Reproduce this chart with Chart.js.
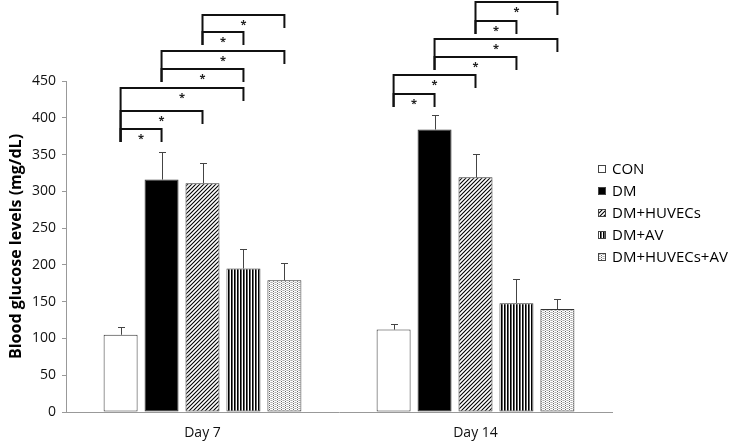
<!DOCTYPE html>
<html>
<head>
<meta charset="utf-8">
<script src="https://cdn.jsdelivr.net/npm/chart.js@4.4.1/dist/chart.umd.min.js"></script>
<style>
  html, body { margin: 0; padding: 0; background: #fff; }
  #wrap { width: 733px; height: 442px; position: relative; }
</style>
</head>
<body>
<div id="wrap"><canvas id="c" width="733" height="442"></canvas></div>
<script>
// ---- Data ----
const categories = ['Day 7', 'Day 14'];
const seriesLabels = ['CON', 'DM', 'DM+HUVECs', 'DM+AV', 'DM+HUVECs+AV'];
const conValues = [105, 112];
const conErrors = [10, 7];
const dmValues = [316, 384];
const dmErrors = [37, 20];
const dmHuvecsValues = [311, 319];
const dmHuvecsErrors = [28, 32];
const dmAvValues = [195, 148];
const dmAvErrors = [27, 33];
const dmHuvecsAvValues = [179, 140];
const dmHuvecsAvErrors = [23, 13];
const yMin = 0, yMax = 450, yStep = 50;
const yTitle = 'Blood glucose levels (mg/dL)';
// significance brackets: category index, from series, to series, level (mg/dL)
const bracketCategory = [0, 0, 0, 0, 0, 0, 0, 1, 1, 1, 1, 1, 1];
const bracketFrom     = [0, 0, 0, 1, 1, 2, 2, 0, 0, 1, 1, 2, 2];
const bracketTo       = [1, 2, 3, 3, 4, 3, 4, 1, 2, 3, 4, 3, 4];
const bracketLevel    = [385, 409, 441, 466, 491, 516, 540, 433, 458, 483, 507, 532, 557];
const bracketLabel    = ['*', '*', '*', '*', '*', '*', '*', '*', '*', '*', '*', '*', '*'];

// ---- Patterns ----
function makePattern(size, drawFn) {
  const c = document.createElement('canvas');
  c.width = size; c.height = size;
  const g = c.getContext('2d');
  g.fillStyle = '#fff';
  g.fillRect(0, 0, size, size);
  drawFn(g, size);
  return g.createPattern(c, 'repeat');
}
const diagPattern = makePattern(4, (g, s) => {
  g.strokeStyle = '#000'; g.lineWidth = 1.1;
  g.beginPath();
  g.moveTo(-1, s + 1); g.lineTo(s + 1, -1);
  g.moveTo(-1, 1); g.lineTo(1, -1);
  g.moveTo(s - 1, s + 1); g.lineTo(s + 1, s - 1);
  g.stroke();
});
const vertPattern = makePattern(3, (g, s) => {
  g.fillStyle = '#000'; g.fillRect(0, 0, 1, s);
  g.fillStyle = '#666'; g.fillRect(1, 0, 1, s);
});
const dotPattern = makePattern(4, (g, s) => {
  g.fillStyle = '#d0d0d0';
  g.fillRect(0, 0, 1, 1); g.fillRect(2, 2, 1, 1); g.fillRect(0, 2, 1, 1); g.fillRect(2, 0, 1, 1);
  g.fillStyle = '#666';
  g.fillRect(1, 1, 1, 1); g.fillRect(1, 3, 1, 1);
  g.fillStyle = '#aaa';
  g.fillRect(3, 0, 1, 1); g.fillRect(3, 2, 1, 1);
});

const seriesValues = [conValues, dmValues, dmHuvecsValues, dmAvValues, dmHuvecsAvValues];
const seriesErrors = [conErrors, dmErrors, dmHuvecsErrors, dmAvErrors, dmHuvecsAvErrors];
const seriesFills = ['#ffffff', '#000000', diagPattern, vertPattern, dotPattern];

const datasets = seriesLabels.map((lab, i) => ({
  label: lab,
  data: seriesValues[i],
  errors: seriesErrors[i],
  backgroundColor: seriesFills[i],
  borderColor: '#333',
  borderWidth: 1,
  borderSkipped: false,
  categoryPercentage: 0.75,
  barPercentage: 0.83
}));

const FONT = '"Open Sans", "Noto Sans", sans-serif';

const errorBarPlugin = {
  id: 'errorBars',
  afterDatasetsDraw(chart) {
    const ctx = chart.ctx;
    const y = chart.scales.y;
    ctx.save();
    ctx.strokeStyle = '#444';
    ctx.lineWidth = 1;
    chart.data.datasets.forEach((ds, i) => {
      const meta = chart.getDatasetMeta(i);
      meta.data.forEach((bar, j) => {
        const top = y.getPixelForValue(ds.data[j] + ds.errors[j]);
        const x = Math.round(bar.x) + 0.5;
        ctx.beginPath();
        ctx.moveTo(x, bar.y);
        ctx.lineTo(x, Math.round(top) + 0.5);
        ctx.moveTo(x - 3.5, Math.round(top) + 0.5);
        ctx.lineTo(x + 3.5, Math.round(top) + 0.5);
        ctx.stroke();
      });
    });
    ctx.restore();
  }
};

const bracketPlugin = {
  id: 'brackets',
  afterDraw(chart) {
    const ctx = chart.ctx;
    const y = chart.scales.y;
    const leg = 13;
    ctx.save();
    ctx.strokeStyle = '#111';
    ctx.lineWidth = 2;
    ctx.fillStyle = '#222';
    ctx.font = 'bold 11px ' + FONT;
    ctx.textAlign = 'center';
    ctx.textBaseline = 'middle';
    for (let k = 0; k < bracketLevel.length; k++) {
      const c = bracketCategory[k];
      const x1 = chart.getDatasetMeta(bracketFrom[k]).data[c].x;
      const x2 = chart.getDatasetMeta(bracketTo[k]).data[c].x;
      const py = Math.round(y.getPixelForValue(bracketLevel[k]));
      let lowest = bracketLevel[k];
      for (let m = 0; m < bracketLevel.length; m++) {
        if (bracketCategory[m] === c && bracketFrom[m] === bracketFrom[k]) {
          lowest = Math.min(lowest, bracketLevel[m]);
        }
      }
      const leftBottom = Math.round(y.getPixelForValue(lowest)) + leg;
      ctx.beginPath();
      ctx.moveTo(x1, leftBottom);
      ctx.lineTo(x1, py);
      ctx.lineTo(x2, py);
      ctx.lineTo(x2, py + leg);
      ctx.stroke();
      ctx.fillText(bracketLabel[k], (x1 + x2) / 2, py + 10);
    }
    ctx.restore();
  }
};

const legendPlugin = {
  id: 'customLegend',
  afterDraw(chart) {
    const ctx = chart.ctx;
    ctx.save();
    ctx.font = '15px ' + FONT;
    ctx.textBaseline = 'middle';
    ctx.textAlign = 'left';
    chart.data.datasets.forEach((ds, i) => {
      const cy = 169 + i * 22;
      const bx = 598, bs = 8;
      ctx.fillStyle = ds.backgroundColor;
      ctx.fillRect(bx, cy - bs / 2, bs, bs);
      ctx.strokeStyle = '#444';
      ctx.lineWidth = 1;
      ctx.strokeRect(bx + 0.5, Math.round(cy - bs / 2) + 0.5, bs - 1, bs - 1);
      ctx.fillStyle = '#000';
      ctx.fillText(ds.label, 612, cy + 1);
    });
    ctx.restore();
  }
};

new Chart(document.getElementById('c'), {
  type: 'bar',
  data: { labels: categories, datasets },
  plugins: [errorBarPlugin, bracketPlugin, legendPlugin],
  options: {
    responsive: false,
    animation: false,
    devicePixelRatio: 1,
    layout: { padding: { top: 81, right: 121, bottom: 0, left: 0 } },
    plugins: { legend: { display: false }, tooltip: { enabled: false } },
    scales: {
      x: {
        grid: { display: false },
        border: { display: true, color: '#999', width: 1 },
        ticks: { color: '#111', font: { family: FONT, size: 14 }, padding: 5 },
        afterFit(scale) { scale.height = 30; }
      },
      y: {
        min: yMin, max: yMax,
        ticks: { stepSize: yStep, color: '#111', font: { family: FONT, size: 14 }, padding: 6 },
        grid: { display: true, drawOnChartArea: false, drawTicks: true, tickLength: 4, color: '#999' },
        border: { display: true, color: '#999', width: 1 },
        title: { display: true, text: yTitle, color: '#000', font: { family: FONT, size: 16, weight: 'bold' }, padding: { top: 7, bottom: 0 } },
        afterFit(scale) { scale.width = 66; }
      }
    }
  }
});
</script>
</body>
</html>
